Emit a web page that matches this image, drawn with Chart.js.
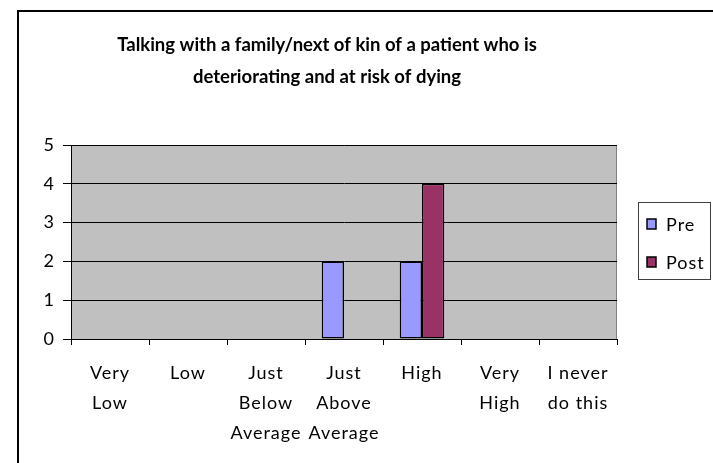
<!DOCTYPE html>
<html>
<head>
<meta charset="utf-8">
<script src="https://cdn.jsdelivr.net/npm/chart.js@4.4.1/dist/chart.umd.min.js"></script>
<style>
  html, body { margin: 0; padding: 0; background: #fff; }
  #wrap { width: 713px; height: 463px; position: relative; }
</style>
</head>
<body>
<div id="wrap"><canvas id="c" width="713" height="463"></canvas></div>
<script>
const titleLines = ["Talking with a family/next of kin of a patient who is", "deteriorating and at risk of dying"];
const categories = [["Very", "Low"], ["Low"], ["Just", "Below", "Average"], ["Just", "Above", "Average"], ["High"], ["Very", "High"], ["I never", "do this"]];
const preValues = [0, 0, 0, 2, 2, 0, 0];
const postValues = [0, 0, 0, 0, 4, 0, 0];
const yTicks = [0, 1, 2, 3, 4, 5];

const FONT = "Lato, 'Open Sans', sans-serif";
const SPACING = '1px';

const decor = {
  id: 'decor',
  beforeUpdate(chart) { chart.ctx.letterSpacing = SPACING; },
  beforeDraw(chart) {
    const ctx = chart.ctx;
    const a = chart.chartArea;
    ctx.save();
    ctx.fillStyle = '#fff';
    ctx.fillRect(0, 0, chart.width, chart.height);
    ctx.strokeStyle = '#000';
    ctx.lineWidth = 2;
    ctx.strokeRect(18, 11, chart.width + 20, chart.height + 20);
    ctx.fillStyle = '#C0C0C0';
    ctx.fillRect(a.left, a.top, a.right - a.left, a.bottom - a.top);
    ctx.strokeStyle = '#808080';
    ctx.lineWidth = 1;
    ctx.strokeRect(a.left + 0.5, a.top + 0.5, a.right - a.left - 1, a.bottom - a.top);
    ctx.restore();
    chart.ctx.letterSpacing = SPACING;
  },
  afterDraw(chart) {
    const ctx = chart.ctx;
    ctx.save();
    ctx.letterSpacing = '0px';
    ctx.fillStyle = '#000';
    ctx.font = "bold 18.5px " + FONT;
    ctx.textAlign = 'center';
    ctx.textBaseline = 'alphabetic';
    ctx.fillText(titleLines[0], 327, 51);
    ctx.fillText(titleLines[1], 327, 83);
    ctx.strokeStyle = '#404040';
    ctx.lineWidth = 1;
    ctx.strokeRect(638.5, 202.5, 72, 77);
    ctx.letterSpacing = SPACING;
    ctx.font = "18px " + FONT;
    ctx.textAlign = 'left';
    ctx.textBaseline = 'middle';
    chart.data.datasets.forEach((ds, i) => {
      const cy = 224 + i * 38;
      ctx.fillStyle = ds.backgroundColor;
      ctx.fillRect(647, cy - 5, 9, 10);
      ctx.strokeStyle = '#000';
      ctx.lineWidth = 1.5;
      ctx.strokeRect(647, cy - 5, 9, 10);
      ctx.fillStyle = '#000';
      ctx.fillText(ds.label, 666, cy + 1);
    });
    ctx.restore();
  }
};

new Chart(document.getElementById('c'), {
  type: 'bar',
  data: {
    labels: categories,
    datasets: [
      { label: 'Pre', data: preValues, backgroundColor: '#9999FF', borderColor: '#000', borderWidth: 1.5, borderSkipped: false },
      { label: 'Post', data: postValues, backgroundColor: '#993366', borderColor: '#000', borderWidth: 1.5, borderSkipped: false }
    ]
  },
  options: {
    responsive: false,
    animation: false,
    devicePixelRatio: 1,
    layout: { padding: { left: 0, right: 96, top: 145, bottom: 0 } },
    datasets: { bar: { barPercentage: 1, categoryPercentage: 0.5714 } },
    plugins: { legend: { display: false }, title: { display: false }, tooltip: { enabled: false } },
    scales: {
      x: {
        afterFit(s) { s.height = 124; },
        grid: { display: true, drawOnChartArea: false, drawTicks: true, tickLength: 6, color: '#000', offset: true },
        border: { display: true, color: '#000', width: 1 },
        ticks: { autoSkip: false, maxRotation: 0, minRotation: 0, padding: 13, color: '#000', font: { family: FONT, size: 18, lineHeight: 30 / 18 } }
      },
      y: {
        min: 0, max: 5,
        afterFit(s) { s.width = 71; },
        afterBuildTicks(s) { s.ticks = yTicks.map(v => ({ value: v })); },
        grid: { color: '#000', tickLength: 8, lineWidth: 1 },
        border: { display: true, color: '#000', width: 1 },
        ticks: { padding: 8, color: '#000', font: { family: FONT, size: 18 } }
      }
    }
  },
  plugins: [decor]
});
</script>
</body>
</html>
